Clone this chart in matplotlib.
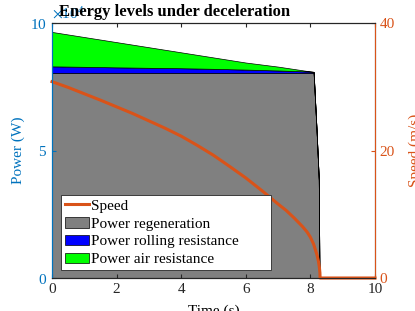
import numpy as np
import matplotlib.pyplot as plt
from matplotlib.ticker import ScalarFormatter

plt.rcParams['font.family'] = ['Liberation Serif', 'DejaVu Serif']
plt.rcParams['mathtext.fontset'] = 'stix'

# Power samples (W)
t_pow = [0, 1, 2, 3, 4, 5, 6, 7, 8, 8.10, 8.19, 8.26, 8.28]
p_regen = [80400, 80400, 80400, 80400, 80400, 80400, 80400, 80400, 80400, 80400, 58000, 38400, 0]
p_roll = [2600, 2420, 2210, 2030, 1870, 1630, 1330, 980, 550, 450, 300, 150, 0]
p_air = [13500, 11680, 9890, 8070, 6230, 4470, 2770, 1520, 50, 0, 0, 0, 0]

# Speed samples (m/s)
t_speed = [0, 0.5, 1, 1.5, 2, 2.5, 3, 3.5, 4, 4.5, 5, 5.5, 6, 6.5, 7, 7.25, 7.5, 7.75,
           7.9, 8.0, 8.1, 8.2, 8.25, 8.28, 8.295, 8.3, 10]
speed = [30.8, 29.9, 28.9, 27.9, 26.85, 25.8, 24.65, 23.5, 22.25, 20.8, 19.25, 17.5,
         15.7, 13.7, 11.6, 10.6, 9.4, 8.1, 7.2, 6.4, 5.3, 3.7, 2.6, 1.6, 0.8, 0, 0]

blue = '#0072BD'
orange = '#D95319'

fig = plt.figure(figsize=(4.15, 3.11), dpi=100)
ax1 = fig.add_axes([0.1253, 0.1061, 0.7783, 0.8199])
ax2 = ax1.twinx()

polys = ax1.stackplot(t_pow, p_regen, p_roll, p_air,
                      colors=['#808080', '#0000FF', '#00FF00'],
                      edgecolor='black', linewidth=0.5)
ax1.set_xlim(0, 10)
ax1.set_ylim(0, 100000)
ax1.set_yticks([0, 50000, 100000])
fmt = ScalarFormatter(useMathText=True)
fmt.set_powerlimits((4, 4))
ax1.yaxis.set_major_formatter(fmt)
ax1.yaxis.get_offset_text().set_color(blue)
ax1.yaxis.get_offset_text().set_fontsize(11)
ax1.set_xticks([0, 2, 4, 6, 8, 10])
ax1.set_ylabel('Power (W)', color=blue, fontsize=11, labelpad=4)
ax1.set_xlabel('Time (s)', fontsize=11, labelpad=6)
ax1.tick_params(axis='y', colors=blue, direction='in', labelsize=11, length=3)
ax1.tick_params(axis='x', direction='in', labelsize=11, length=3, top=True, colors='#262626')
ax1.spines['left'].set_color(blue)

line, = ax2.plot(t_speed, speed, color=orange, linewidth=2.2, clip_on=False, label='Speed')
ax2.set_ylim(0, 40)
ax2.set_yticks([0, 20, 40])
ax2.set_ylabel('Speed (m/s)', color=orange, fontsize=11, labelpad=10)
ax2.tick_params(axis='y', colors=orange, direction='in', labelsize=11, length=3)
ax2.spines['right'].set_color(orange)
ax2.spines['left'].set_color(blue)
for sp in ['top', 'bottom']:
    ax2.spines[sp].set_color('#262626')

fig.text(175 / 415, 1 - 12 / 311, 'Energy levels under deceleration', fontsize=12,
         fontweight='bold', ha='center', va='center')

leg = ax2.legend([line] + polys,
                 ['Speed', 'Power regeneration', 'Power rolling resistance', 'Power air resistance'],
                 loc='lower left', bbox_to_anchor=(0.027, 0.031, 0.65, 0.286), mode='expand',
                 fontsize=11, fancybox=False, framealpha=1, edgecolor='#262626',
                 borderpad=0.25, labelspacing=0.27, handlelength=1.6, handletextpad=0.1,
                 borderaxespad=0)
leg.get_frame().set_linewidth(0.6)

fig.savefig('out.png', dpi=100)
